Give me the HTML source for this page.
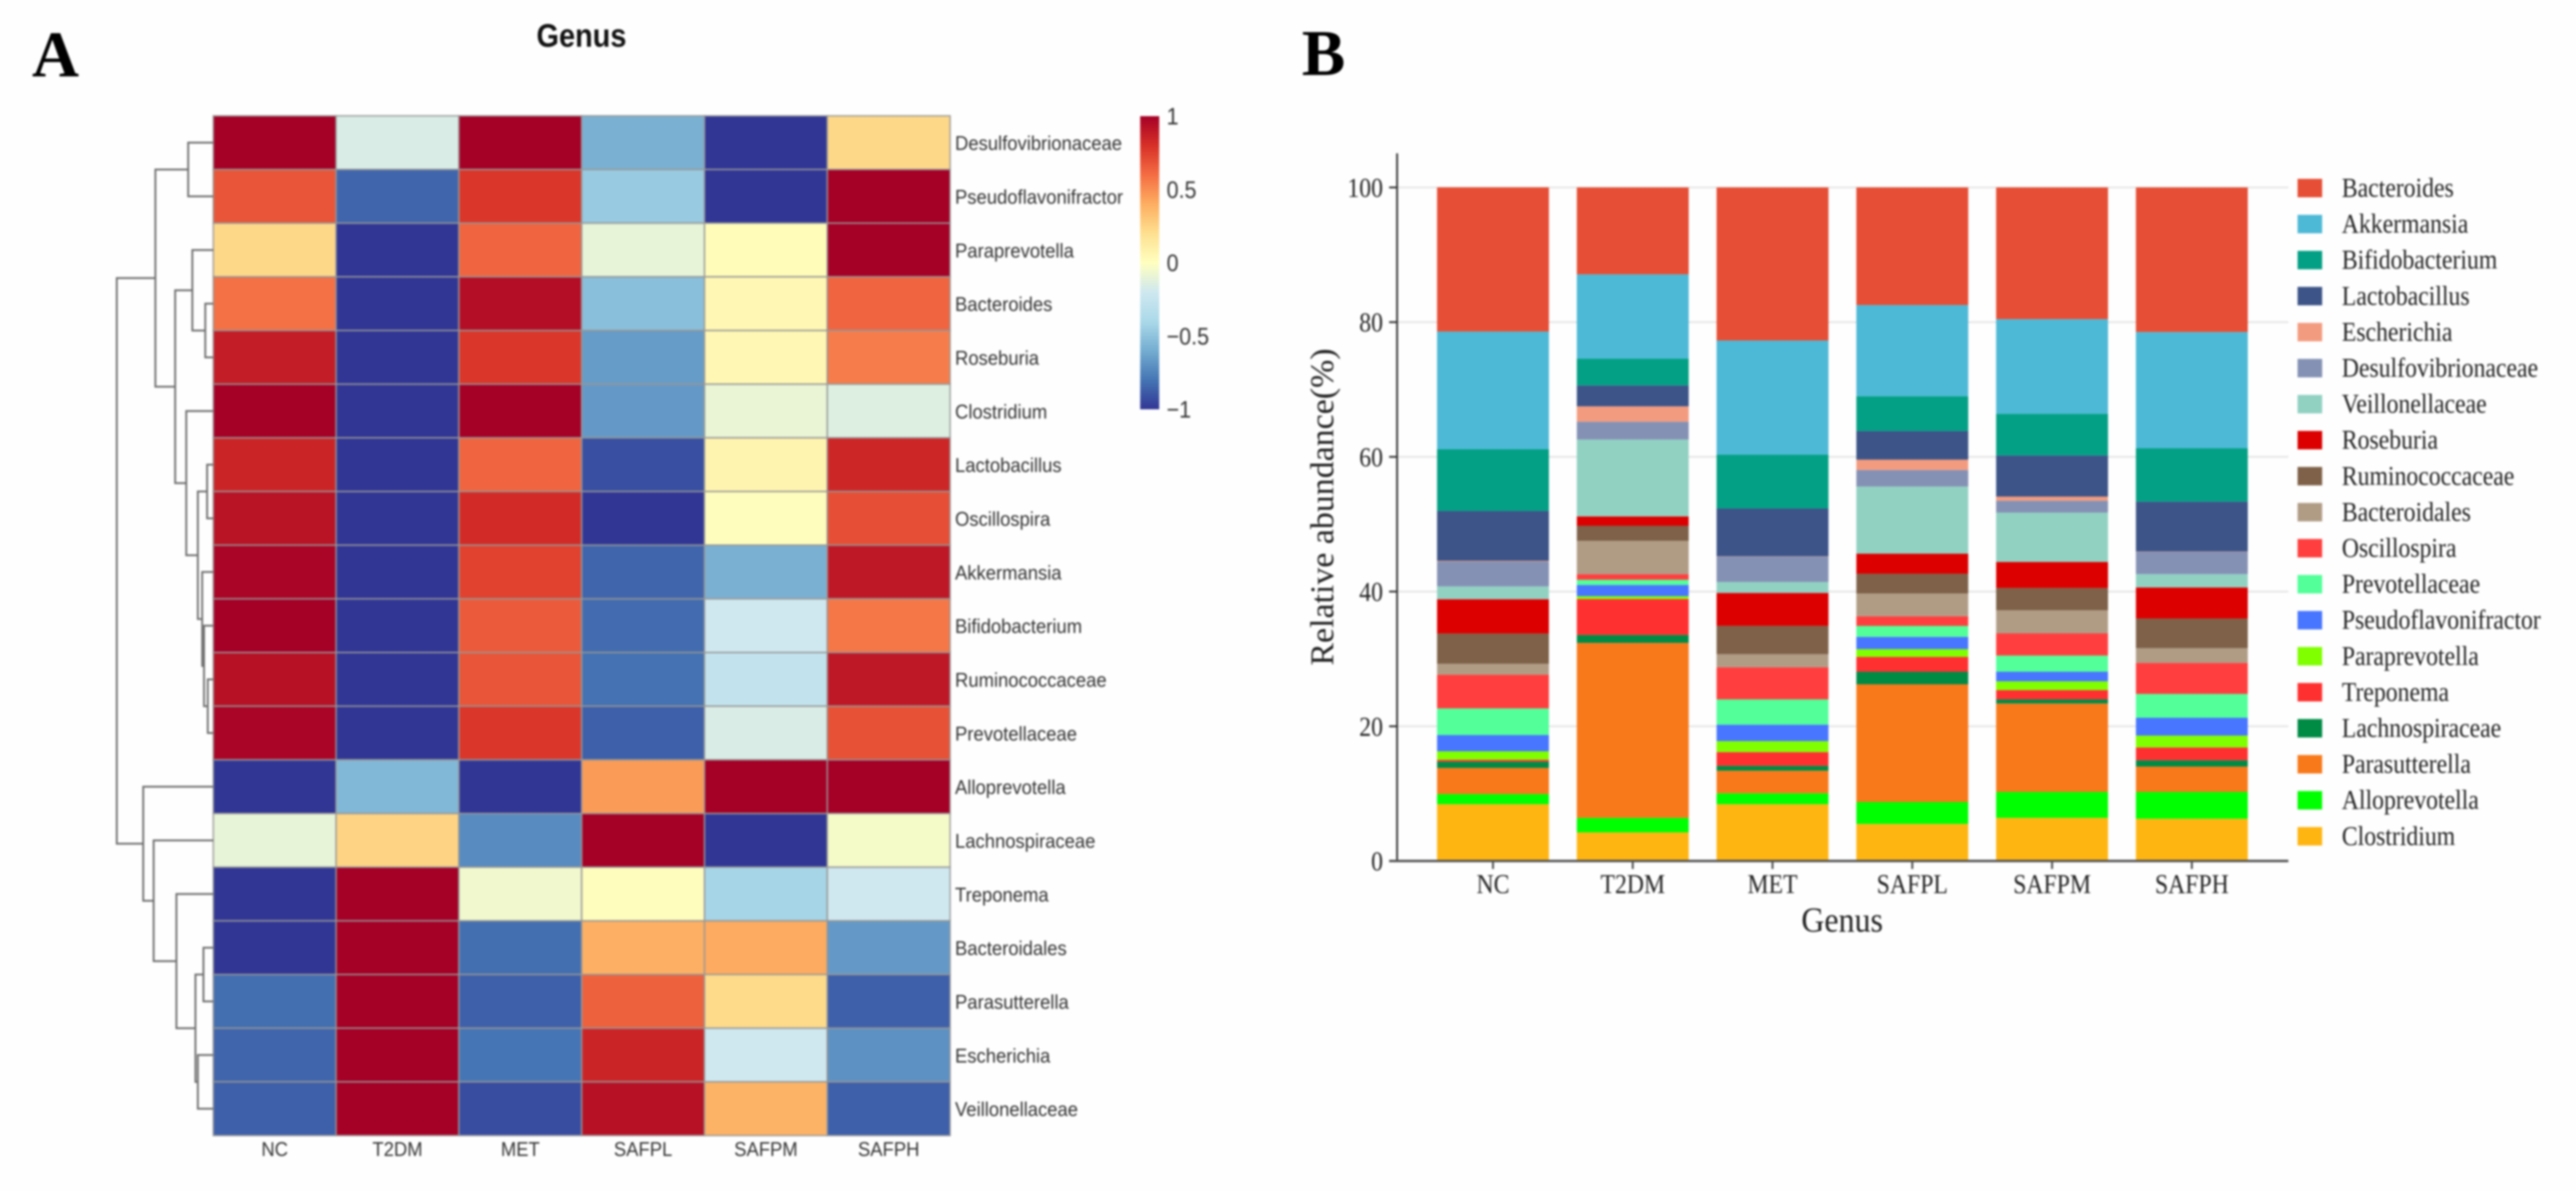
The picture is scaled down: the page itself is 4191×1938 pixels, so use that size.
<!DOCTYPE html>
<html lang="en">
<head>
<meta charset="utf-8">
<title>Genus heatmap and relative abundance</title>
<style>
html,body{margin:0;padding:0;background:#fefefe;}
body{width:4191px;height:1938px;overflow:hidden;}
svg{display:block;filter:blur(1.5px);}
.sans{font-family:"Liberation Sans",Arial,sans-serif;}
.serif{font-family:"Liberation Serif","Times New Roman",serif;}
</style>
</head>
<body>
<svg id="figure" xmlns="http://www.w3.org/2000/svg" width="4191" height="1938" viewBox="0 0 4191 1938">
  <rect x="0" y="0" width="4191" height="1938" fill="#fefefe"/>
  <text class="serif" x="52" y="124" font-size="106" font-weight="700" fill="#000">A</text>
  <text class="serif" x="2118" y="122" font-size="106" font-weight="700" fill="#000">B</text>
  <text class="sans" transform="translate(946,76) scale(1,1.12)" text-anchor="middle" font-size="47" font-weight="700" fill="#111">Genus</text>
  <g id="heatmap"></g>
  <g id="dendrogram" fill="none"></g>
  <g id="colorbar"></g>
  <g id="stacked"></g>
  <g id="legend"></g>
</svg>
<script>
// ---------- Heatmap data ----------
const heatColumns = ['NC','T2DM','MET','SAFPL','SAFPM','SAFPH'];
const heatRowLabels = ['Desulfovibrionaceae','Pseudoflavonifractor','Paraprevotella','Bacteroides','Roseburia','Clostridium','Lactobacillus','Oscillospira','Akkermansia','Bifidobacterium','Ruminococcaceae','Prevotellaceae','Alloprevotella','Lachnospiraceae','Treponema','Bacteroidales','Parasutterella','Escherichia','Veillonellaceae'];
const heatDesulfovibrionaceae = [1,-0.16,1,-0.58,-1,0.23];
const heatPseudoflavonifractor = [0.68,-0.85,0.78,-0.47,-1,1];
const heatParaprevotella = [0.23,-1,0.63,-0.1,0.02,1];
const heatBacteroides = [0.59,-1,0.94,-0.52,0.05,0.63];
const heatRoseburia = [0.88,-1,0.78,-0.66,0.05,0.55];
const heatClostridium = [1,-1,1,-0.67,-0.09,-0.14];
const heatLactobacillus = [0.85,-1,0.63,-0.92,0.07,0.84];
const heatOscillospira = [0.92,-1,0.82,-1,0.01,0.7];
const heatAkkermansia = [0.98,-1,0.74,-0.85,-0.58,0.9];
const heatBifidobacterium = [1,-1,0.66,-0.83,-0.2,0.57];
const heatRuminococcaceae = [0.93,-1,0.68,-0.81,-0.27,0.9];
const heatPrevotellaceae = [0.98,-1,0.78,-0.87,-0.16,0.69];
const heatAlloprevotella = [-1,-0.55,-1,0.46,1,1];
const heatLachnospiraceae = [-0.1,0.25,-0.72,1,-1,-0.04];
const heatTreponema = [-1,1,-0.06,0.01,-0.42,-0.2];
const heatBacteroidales = [-1,1,-0.82,0.39,0.41,-0.67];
const heatParasutterella = [-0.82,1,-0.87,0.64,0.22,-0.87];
const heatEscherichia = [-0.85,1,-0.8,0.85,-0.2,-0.7];
const heatVeillonellaceae = [-0.87,1,-0.93,0.93,0.38,-0.87];
const heatRows = [heatDesulfovibrionaceae,heatPseudoflavonifractor,heatParaprevotella,heatBacteroides,heatRoseburia,heatClostridium,heatLactobacillus,heatOscillospira,heatAkkermansia,heatBifidobacterium,heatRuminococcaceae,heatPrevotellaceae,heatAlloprevotella,heatLachnospiraceae,heatTreponema,heatBacteroidales,heatParasutterella,heatEscherichia,heatVeillonellaceae];
const colorStops = ['#313695','#4575b4','#74add1','#abd9e9','#cfe8f0','#ffffbf','#fee090','#fdae61','#f46d43','#d73027','#a50026'];
const colorbarTicks = [1,0.5,0,-0.5,-1];
const colorbarTickLabels = ['1','0.5','0','\u22120.5','\u22121'];

// Row dendrogram: [merge height, left child, right child]; numbers alone are row indexes.
const clusterTop = [0.60,[0.26,0,1],[0.395,[0.217,2,[0.083,3,4]],[0.28,5,[0.16,[0.064,6,7],[0.115,8,[0.096,9,[0.057,10,11]]]]]]];
const clusterBottom = [0.726,12,[0.618,13,[0.382,14,[0.185,[0.102,15,16],[0.16,17,18]]]]];
const clusterRoot = [1,clusterTop,clusterBottom];

// ---------- Stacked bar data (bottom to top) ----------
const barGroups = ['NC','T2DM','MET','SAFPL','SAFPM','SAFPH'];
const yTickValues = [0,20,40,60,80,100];
const clostridiumValues = [8.43,4.24,8.43,5.5,6.4,6.27];
const alloprevotellaValues = [1.51,2.16,1.63,3.26,3.86,3.99];
const parasutterellaValues = [3.87,25.98,3.34,17.47,13.12,3.75];
const lachnospiraceaeValues = [0.94,1.18,0.73,1.87,0.61,0.94];
const treponemaValues = [0.28,5.34,2.04,2.2,1.39,1.91];
const paraprevotellaValues = [1.26,0.41,1.63,1.15,1.3,1.76];
const pseudoflavonifractorValues = [2.41,1.67,2.44,1.83,1.42,2.64];
const prevotellaceaeValues = [3.95,0.77,3.75,1.62,2.4,3.54];
const oscillospiraValues = [5.01,0.82,4.77,1.43,3.3,4.61];
const bacteroidalesValues = [1.63,4.96,1.95,3.38,3.43,2.19];
const ruminococcaceaeValues = [4.48,2.24,4.2,2.94,3.3,4.4];
const roseburiaValues = [5.09,1.39,4.89,2.97,3.87,4.6];
const veillonellaceaeValues = [1.91,11.41,1.63,9.97,7.32,2.0];
const desulfovibrionaceaeValues = [3.7,2.65,3.75,2.46,1.77,3.3];
const escherichiaValues = [0.1,2.28,0.05,1.54,0.61,0.05];
const lactobacillusValues = [7.4,3.1,7.1,4.24,6.1,7.4];
const bifidobacteriumValues = [9.17,3.98,8.01,5.17,6.19,7.92];
const akkermansiaValues = [17.47,12.52,16.94,13.54,14.06,17.27];
const bacteroidesValues = [21.4,12.9,22.72,17.46,19.55,21.46];
const seriesValues = [clostridiumValues,alloprevotellaValues,parasutterellaValues,lachnospiraceaeValues,treponemaValues,paraprevotellaValues,pseudoflavonifractorValues,prevotellaceaeValues,oscillospiraValues,bacteroidalesValues,ruminococcaceaeValues,roseburiaValues,veillonellaceaeValues,desulfovibrionaceaeValues,escherichiaValues,lactobacillusValues,bifidobacteriumValues,akkermansiaValues,bacteroidesValues];
const seriesNames = ['Clostridium','Alloprevotella','Parasutterella','Lachnospiraceae','Treponema','Paraprevotella','Pseudoflavonifractor','Prevotellaceae','Oscillospira','Bacteroidales','Ruminococcaceae','Roseburia','Veillonellaceae','Desulfovibrionaceae','Escherichia','Lactobacillus','Bifidobacterium','Akkermansia','Bacteroides'];
const seriesColors = ['#ffb511','#00ff00','#f8791a','#008b45','#ff3030','#7fff00','#4876ff','#52ff99','#ff3f3f','#b09c85','#7e6148','#dc0000','#91d1c2','#8491b4','#f39b7f','#3c5488','#03a085','#4db9d6','#e64e35'];

// ---------- Helpers ----------
const NS = 'http://www.w3.org/2000/svg';
function mk(tag, attrs, parent) {
  const el = document.createElementNS(NS, tag);
  for (const k in attrs) el.setAttribute(k, attrs[k]);
  parent.appendChild(el);
  return el;
}
function label(parent, str, x, y, size, cls, anchor, fill, sy) {
  const el = mk('text', {transform: 'translate(' + x + ',' + y + ') scale(1,' + sy + ')', 'class': cls, 'font-size': size, 'text-anchor': anchor, fill: fill}, parent);
  el.textContent = str;
  return el;
}
function hexToRgb(h) { return [parseInt(h.substr(1,2),16), parseInt(h.substr(3,2),16), parseInt(h.substr(5,2),16)]; }
function colorScale(v) {
  const t = (Math.max(-1, Math.min(1, v)) + 1) / 2 * (colorStops.length - 1);
  const i = Math.min(colorStops.length - 2, Math.floor(t));
  const f = t - i;
  const a = hexToRgb(colorStops[i]);
  const b = hexToRgb(colorStops[i + 1]);
  return 'rgb(' + a.map(function (c, n) { return Math.round(c + (b[n] - c) * f); }).join(',') + ')';
}

// ---------- Heatmap ----------
const heatG = document.getElementById('heatmap');
const heatLeft = 347, heatTop = 188.5, cellW = 199.8, cellH = 87.33;
function heatX(c) { return heatLeft + c * cellW; }
function heatY(r) { return heatTop + r * cellH; }
heatRows.forEach(function (row, r) {
  row.forEach(function (v, c) {
    const cell = mk('rect', {x: heatX(c), y: heatY(r), width: cellW, height: cellH, fill: colorScale(v), stroke: 'rgba(150,150,150,0.85)', 'stroke-width': 2.5}, heatG);
    
    
  });
  const rowText = label(heatG, heatRowLabels[r], heatLeft + 6 * cellW + 8, heatY(r) + cellH / 2 + 12, 30, 'sans', 'start', '#333', 1.09);
  
  
});
heatColumns.forEach(function (name, c) {
  const colText = label(heatG, name, heatX(c) + cellW / 2, 1881, 30, 'sans', 'middle', '#333', 1.09);
  
  
});

// ---------- Dendrogram ----------
const dendG = document.getElementById('dendrogram');
function dendX(h) { return heatLeft - h * 157; }
function drawCluster(node) {
  if (typeof node === 'number') return {x: heatLeft, y: heatY(node) + cellH / 2};
  const a = drawCluster(node[1]);
  const b = drawCluster(node[2]);
  const x = dendX(node[0]);
  const branch = mk('path', {d: 'M' + a.x + ' ' + a.y + 'H' + x + 'V' + b.y + 'H' + b.x, stroke: '#6e6e6e', 'stroke-width': 3, fill: 'none'}, dendG);
  
  
  return {x: x, y: (a.y + b.y) / 2};
}
drawCluster(clusterRoot);

// ---------- Colorbar ----------
const cbG = document.getElementById('colorbar');
const cbTop = 189, cbBottom = 666, cbLeft = 1855, cbWidth = 31;
function cbY(v) { return cbTop + (1 - v) / 2 * (cbBottom - cbTop); }
const defs = mk('defs', {}, cbG);
const grad = mk('linearGradient', {id: 'cbGradient', x1: 0, y1: 1, x2: 0, y2: 0}, defs);
colorStops.forEach(function (c, i) {
  mk('stop', {offset: i / (colorStops.length - 1), 'stop-color': c}, grad);
});
const cbRect = mk('rect', {x: cbLeft, y: cbTop, width: cbWidth, height: cbBottom - cbTop, fill: 'url(#cbGradient)'}, cbG);


colorbarTicks.forEach(function (v, i) {
  const t = label(cbG, colorbarTickLabels[i], 1898, cbY(v) + 13.5, 35, 'sans', 'start', '#333', 1.1);
  
  
});

// ---------- Stacked bars ----------
const barG = document.getElementById('stacked');
const axisLeft = 2273, axisRight = 3723, axisTop = 249.5, axisBottom = 1401;
const bandStep = 227.4, bandStart = 2315.3, barW = 182;
function yScale(v) { return 1401 - v * 10.96; }
function xCenter(i) { return bandStart + bandStep * (i + 0.5); }

yTickValues.forEach(function (v) {
  if (v > 0) {
    const grid = mk('line', {x1: axisLeft, x2: axisRight, y1: yScale(v), y2: yScale(v), stroke: '#e6e6e6', 'stroke-width': 3}, barG);
    
    
  }
  const tick = mk('line', {x1: axisLeft - 13, x2: axisLeft, y1: yScale(v), y2: yScale(v), stroke: '#333', 'stroke-width': 3}, barG);
  
  
  const tl = label(barG, String(v), 2250, yScale(v) + 15, 38.6, 'serif', 'end', '#222', 1.14);
  
  
});

barGroups.forEach(function (name, g) {
  let cum = 0;
  seriesValues.forEach(function (vals, s) {
    const y1 = yScale(cum);
    cum += vals[g];
    const y0 = yScale(cum);
    const seg = mk('rect', {x: xCenter(g) - barW / 2, y: y0, width: barW, height: y1 - y0, fill: seriesColors[s]}, barG);
    
    
  });
  const tick = mk('line', {x1: xCenter(g), x2: xCenter(g), y1: axisBottom, y2: axisBottom + 13, stroke: '#444', 'stroke-width': 3}, barG);
  
  
  const tl = label(barG, name, xCenter(g), 1453, 38.6, 'serif', 'middle', '#222', 1.14);
  
  
});

const yAxis = mk('line', {x1: axisLeft, x2: axisLeft, y1: axisTop, y2: axisBottom, stroke: '#333', 'stroke-width': 3}, barG);


const xAxis = mk('line', {x1: axisLeft - 13, x2: axisRight, y1: axisBottom, y2: axisBottom, stroke: '#555', 'stroke-width': 4}, barG);



const xTitle = label(barG, 'Genus', 2997, 1516, 52, 'serif', 'middle', '#222', 1.1);


const yTitle = mk('text', {transform: 'translate(2169,825) rotate(-90)', 'class': 'serif', 'font-size': 54, 'text-anchor': 'middle', fill: '#222', textLength: 516, lengthAdjust: 'spacingAndGlyphs'}, barG);
yTitle.textContent = 'Relative abundance(%)';



// ---------- Legend (top to bottom: reverse of stacking order) ----------
const legendG = document.getElementById('legend');
function legendY(i) { return 306 + i * 58.6; }
seriesNames.slice().reverse().forEach(function (name, i) {
  const color = seriesColors[seriesNames.length - 1 - i];
  const swatch = mk('rect', {x: 3738, y: legendY(i) - 15, width: 40, height: 30, fill: color}, legendG);
  
  
  const text = label(legendG, name, 3810, legendY(i) + 14, 38.6, 'serif', 'start', '#222', 1.14);
  
  
});
</script>
</body>
</html>
